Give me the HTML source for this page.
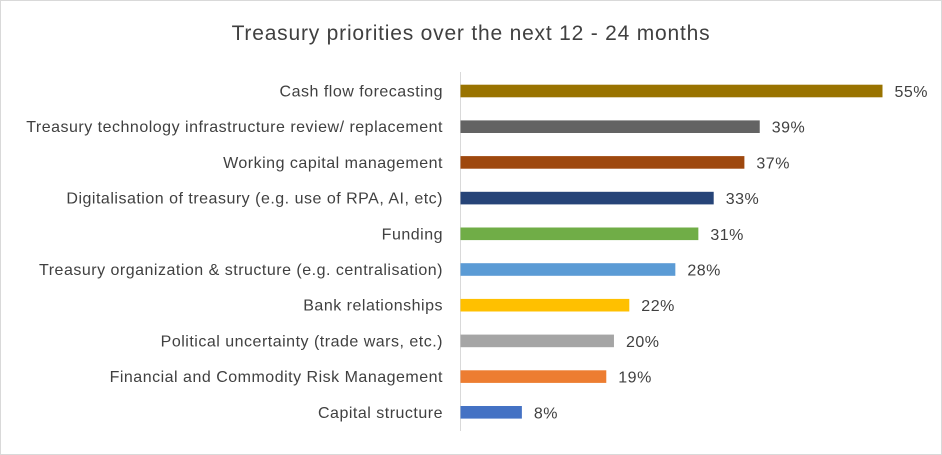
<!DOCTYPE html>
<html><head><meta charset="utf-8"><style>
html,body{margin:0;padding:0;background:#fff;}
svg{display:block;font-family:"Liberation Sans",sans-serif;}
</style></head><body>
<svg id="chart" width="942" height="455" viewBox="0 0 942 455">
<rect x="0.5" y="0.5" width="941" height="454" fill="#fff" stroke="#d9d9d9"/>
<text x="471" y="40" text-anchor="middle" font-size="21" letter-spacing="0.8" fill="#404040">Treasury priorities over the next 12 - 24 months</text>
<line x1="460.5" y1="72" x2="460.5" y2="431" stroke="#d9d9d9"/>
<g id="bars"></g>
</svg>
<script>
const categories=["Cash flow forecasting","Treasury technology infrastructure review/ replacement","Working capital management","Digitalisation of treasury (e.g. use of RPA, AI, etc)","Funding","Treasury organization & structure (e.g. centralisation)","Bank relationships","Political uncertainty (trade wars, etc.)","Financial and Commodity Risk Management","Capital structure"];
const values=[55,39,37,33,31,28,22,20,19,8];
const colors=["#997300","#636363","#9e480e","#264478","#70ad47","#5b9bd5","#ffc000","#a5a5a5","#ed7d31","#4472c4"];
const NS="http://www.w3.org/2000/svg";
const g=document.getElementById("bars");
const x0=460.5, scale=422/55;
function xs(v){return v*scale;}
function yc(i){return 91+i*35.7;}
categories.forEach((c,i)=>{
  const y=yc(i);
  const t=document.createElementNS(NS,"text");
  t.setAttribute("x",443);t.setAttribute("y",y+5.5);t.setAttribute("text-anchor","end");
  t.setAttribute("font-size","16");t.setAttribute("letter-spacing","0.5");t.setAttribute("fill","#404040");t.textContent=c;
  
  
  g.appendChild(t);
  const r=document.createElementNS(NS,"rect");
  r.setAttribute("x",x0);r.setAttribute("y",y-6.3);r.setAttribute("width",xs(values[i]));r.setAttribute("height",12.6);
  r.setAttribute("fill",colors[i]);
  
  
  g.appendChild(r);
  const v=document.createElementNS(NS,"text");
  v.setAttribute("x",x0+xs(values[i])+12);v.setAttribute("y",y+6);
  v.setAttribute("font-size","16");v.setAttribute("letter-spacing","0.5");v.setAttribute("fill","#404040");v.textContent=values[i]+"%";
  
  
  g.appendChild(v);
});
</script>
</body></html>
